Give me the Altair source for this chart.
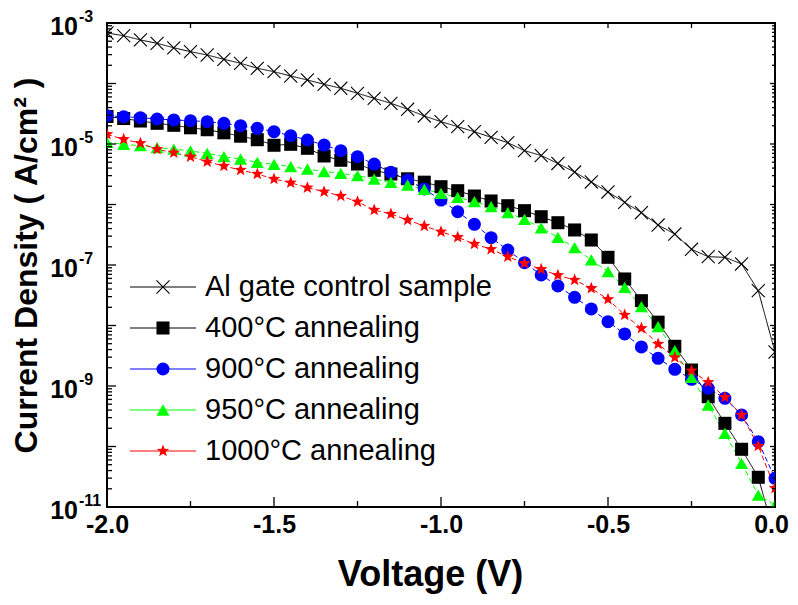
import math
import altair as alt
import pandas as pd

# ---------------- data ----------------
VOLTAGE = [-2.00, -1.95, -1.90, -1.85, -1.80, -1.75, -1.70, -1.65, -1.60, -1.55,
           -1.50, -1.45, -1.40, -1.35, -1.30, -1.25, -1.20, -1.15, -1.10, -1.05,
           -1.00, -0.95, -0.90, -0.85, -0.80, -0.75, -0.70, -0.65, -0.60, -0.55,
           -0.50, -0.45, -0.40, -0.35, -0.30, -0.25, -0.20, -0.15, -0.10, -0.05, 0.00]

SERIES = ["Al gate control sample", "400°C annealing", "900°C annealing",
          "950°C annealing", "1000°C annealing"]

# log10 of current density (A/cm^2)
LOG_AL = [-3.165, -3.21, -3.28, -3.336, -3.41, -3.474, -3.529, -3.60, -3.666, -3.749,
          -3.805, -3.876, -3.942, -4.013, -4.079, -4.162, -4.245, -4.327, -4.426, -4.537,
          -4.631, -4.714, -4.797, -4.889, -4.978, -5.11, -5.19, -5.322, -5.463, -5.628,
          -5.793, -5.964, -6.136, -6.339, -6.488, -6.74, -6.863, -6.873, -6.983, -7.425, -8.438]
LOG_400 = [-4.545, -4.579, -4.620, -4.658, -4.691, -4.732, -4.764, -4.815, -4.871, -4.929,
           -5.021, -5.005, -5.071, -5.198, -5.269, -5.331, -5.435, -5.496, -5.575, -5.631,
           -5.706, -5.772, -5.860, -5.942, -6.020, -6.102, -6.202, -6.301, -6.421, -6.587,
           -6.873, -7.231, -7.590, -7.945, -8.344, -8.736, -9.177, -9.617, -10.046, -10.509, -11.5]
LOG_900 = [-4.532, -4.549, -4.565, -4.587, -4.603, -4.615, -4.631, -4.658, -4.698, -4.740,
           -4.797, -4.863, -4.934, -5.017, -5.111, -5.210, -5.331, -5.468, -5.595, -5.744,
           -5.926, -6.119, -6.327, -6.549, -6.752, -6.962, -7.165, -7.347, -7.534, -7.727,
           -7.937, -8.140, -8.355, -8.542, -8.724, -8.889, -9.038, -9.203, -9.479, -9.921, -10.526]
LOG_950 = [-4.972, -5.005, -5.028, -5.061, -5.083, -5.116, -5.154, -5.210, -5.248, -5.302,
           -5.336, -5.375, -5.413, -5.455, -5.484, -5.524, -5.579, -5.633, -5.678, -5.749,
           -5.815, -5.881, -5.954, -6.036, -6.136, -6.245, -6.385, -6.542, -6.714, -6.917,
           -7.111, -7.369, -7.689, -8.020, -8.417, -8.856, -9.314, -9.782, -10.278, -10.802, -10.967]
LOG_1000 = [-4.840, -4.922, -4.988, -5.088, -5.144, -5.210, -5.293, -5.364, -5.430, -5.496,
            -5.579, -5.640, -5.722, -5.788, -5.860, -5.954, -6.091, -6.157, -6.256, -6.355,
            -6.450, -6.542, -6.653, -6.740, -6.863, -6.972, -7.071, -7.170, -7.248, -7.385,
            -7.567, -7.826, -8.046, -8.306, -8.529, -8.747, -8.939, -9.187, -9.479, -9.992, -10.691]

X_TICKS_MAJOR = [-2.0, -1.5, -1.0, -0.5, 0.0]
X_TICKS_MINOR = [-1.75, -1.25, -0.75, -0.25]
Y_LABEL_VALUES = [1e-3, 1e-5, 1e-7, 1e-9, 1e-11]
Y_LABEL_EXP = ["-3", "-5", "-7", "-9", "-11"]

# ---------------- styling ----------------
W, H = 668, 484
FONT = "Liberation Sans"
COLORS = ["#000000", "#000000", "#0000ff", "#00ff00", "#ff0000"]
X_PATH = "M-1,-1L1,1M-1,1L1,-1"
star_pts = []
for k in range(10):
    a = math.radians(-90 + 36 * k)
    r = 1.0 if k % 2 == 0 else 0.42
    star_pts.append(f"{r*math.cos(a):.3f},{r*math.sin(a):.3f}")
STAR_PATH = "M" + "L".join(star_pts) + "Z"
SHAPES = [X_PATH, "square", "circle", "triangle-up", STAR_PATH]
SIZES = [170, 170, 195, 225, 270]
DASHES = [[1, 0], [1, 0], [5, 3], [5, 3], [5, 3]]

rows = []
for name, logs in zip(SERIES, [LOG_AL, LOG_400, LOG_900, LOG_950, LOG_1000]):
    for v, lj in zip(VOLTAGE, logs):
        rows.append({"series": name, "V": v, "J": 10 ** lj})
df = pd.DataFrame(rows)

xscale = alt.Scale(domain=[-2.0, 0.0], nice=False, zero=False)


def yscale():
    return alt.Scale(type="log", domain=[1e-11, 1e-3], nice=False)


color_enc = alt.Color("series:N", scale=alt.Scale(domain=SERIES, range=COLORS), legend=None)
shape_enc = alt.Shape("series:N", scale=alt.Scale(domain=SERIES, range=SHAPES), legend=None)
size_enc = alt.Size("series:N", scale=alt.Scale(domain=SERIES, range=SIZES), legend=None)
dash_enc = alt.StrokeDash("series:N", scale=alt.Scale(domain=SERIES, range=DASHES), legend=None)

x_axis = alt.Axis(values=X_TICKS_MAJOR, ticks=False, domain=False, grid=False,
                  labelFlush=False, labelOverlap=False,
                  labelOffset={"condition": {"test": "datum.value == 0", "value": -4}, "value": 0},
                  labelExpr="datum.value == 0 ? '0.0' : '-' + format(-datum.value, '.1f')",
                  labelFont=FONT, labelFontSize=25, labelFontWeight="bold", labelColor="black",
                  labelPadding=5, title="Voltage (V)", titleFont=FONT, titleFontSize=36,
                  titleFontWeight="bold", titleColor="black", titleX=323, titleY=67,
                  titleBaseline="middle")
y_axis = alt.Axis(labels=False, ticks=False, domain=False, grid=False,
                  title="Current Density ( A/cm² )", titleFont=FONT, titleFontSize=32,
                  titleFontWeight="bold", titleColor="black", titleAngle=-90,
                  titleX=-81, titleY=242, titleBaseline="middle", titleAlign="center")

lines = alt.Chart(df).mark_line(clip=True, strokeWidth=1).encode(
    x=alt.X("V:Q", scale=xscale, axis=x_axis),
    y=alt.Y("J:Q", scale=yscale(), axis=y_axis),
    color=color_enc, strokeDash=dash_enc, detail="series:N",
)

filled_pts = alt.Chart(df).transform_filter(
    alt.datum.series != SERIES[0]
).mark_point(filled=True, clip=True, opacity=1).encode(
    x=alt.X("V:Q", scale=xscale),
    y=alt.Y("J:Q", scale=yscale(), axis=None),
    color=color_enc, shape=shape_enc, size=size_enc,
)

x_pts = alt.Chart(df).transform_filter(
    alt.datum.series == SERIES[0]
).mark_point(filled=False, clip=True, opacity=1, shape=X_PATH, size=170,
             color="black", strokeWidth=1.1).encode(
    x=alt.X("V:Q", scale=xscale),
    y=alt.Y("J:Q", scale=yscale(), axis=None),
)

# ---------------- ticks (inward) ----------------
y_major = pd.DataFrame({"v": [10.0 ** e for e in range(-11, -2)]})
y_minor = pd.DataFrame({"v": [k * 10.0 ** e for e in range(-11, -3) for k in range(2, 10)]})
x_major = pd.DataFrame({"v": X_TICKS_MAJOR})
x_minor = pd.DataFrame({"v": X_TICKS_MINOR})


def yticks(data, x1, x2):
    return alt.Chart(data).mark_rule(color="black", strokeWidth=1.3).encode(
        x=alt.value(x1), x2=alt.value(x2),
        y=alt.Y("v:Q", scale=yscale(), axis=None))


def xticks(data, y1, y2):
    return alt.Chart(data).mark_rule(color="black", strokeWidth=1.3).encode(
        x=alt.X("v:Q", scale=xscale), y=alt.value(y1), y2=alt.value(y2))


ticks = [
    yticks(y_major, 0, 9), yticks(y_minor, 0, 5),
    yticks(y_major, W - 5, W), yticks(y_minor, W - 3, W),
    xticks(x_major, H - 10, H), xticks(x_minor, H - 6, H),
    xticks(x_major, 0, 5), xticks(x_minor, 0, 5),
]

# ---------------- y tick labels 10^n ----------------
ylab = pd.DataFrame({"val": Y_LABEL_VALUES, "exp": Y_LABEL_EXP})
ylab_base = alt.Chart(ylab).mark_text(align="right", baseline="middle", dy=4, font=FONT,
                                      fontSize=25, fontWeight="bold", color="black").encode(
    x=alt.value(-29), y=alt.Y("val:Q", scale=yscale(), axis=None), text=alt.value("10"))
ylab_exp = alt.Chart(ylab).mark_text(align="left", baseline="middle", dy=-6, font=FONT,
                                     fontSize=16, fontWeight="bold", color="black").encode(
    x=alt.value(-28), y=alt.Y("val:Q", scale=yscale(), axis=None), text="exp:N")

# ---------------- legend ----------------
leg = pd.DataFrame({"series": SERIES, "row": [0, 1, 2, 3, 4]})
leg_y = alt.Y("row:Q", scale=alt.Scale(domain=[0, 4], range=[264, 428]), axis=None)
leg_lines = alt.Chart(leg).mark_rule(strokeWidth=1).encode(
    x=alt.value(23), x2=alt.value(89), y=leg_y, color=color_enc)
leg_pts = alt.Chart(leg).transform_filter(alt.datum.series != SERIES[0]).mark_point(
    filled=True, opacity=1).encode(
    x=alt.value(56), y=leg_y, color=color_enc, shape=shape_enc, size=size_enc)
leg_x = alt.Chart(leg).transform_filter(alt.datum.series == SERIES[0]).mark_point(
    filled=False, opacity=1, shape=X_PATH, size=170, color="black", strokeWidth=1.1).encode(
    x=alt.value(56), y=leg_y)
leg_text = alt.Chart(leg).mark_text(align="left", baseline="middle", font=FONT,
                                    fontSize=29, color="black").encode(
    x=alt.value(98), y=leg_y, text="series:N")

chart = alt.layer(
    lines, x_pts, filled_pts, *ticks, ylab_base, ylab_exp,
    leg_lines, leg_x, leg_pts, leg_text,
).resolve_scale(y="independent").properties(
    width=W, height=H,
    padding={"left": 99, "top": 15, "right": 15, "bottom": 88},
    autosize=alt.AutoSizeParams(type="none"),
).configure_view(stroke="black", strokeWidth=2)

chart.save("out.html", embed_options={"renderer": "svg", "actions": False})
